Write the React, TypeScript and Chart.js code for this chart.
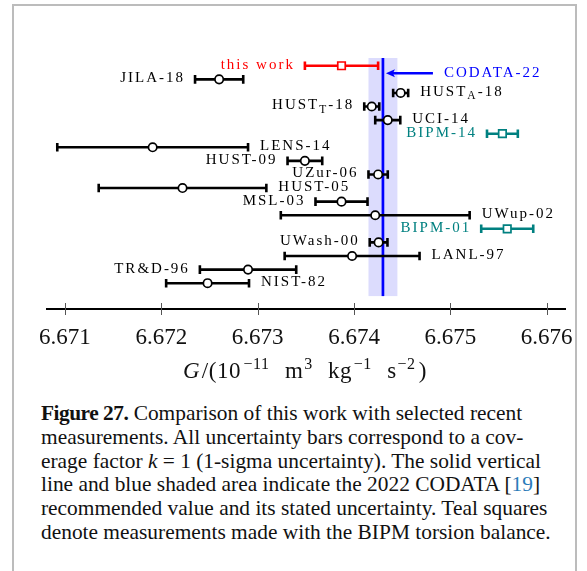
import React, { useEffect, useRef } from 'react';
import { Chart, registerables } from 'chart.js';

Chart.register(...registerables);

// ---------- data ----------
const names = [
  'this work', 'JILA-18', 'HUST_A-18', 'HUST_T-18', 'UCI-14', 'BIPM-14', 'LENS-14', 'HUST-09',
  'UZur-06', 'HUST-05', 'MSL-03', 'UWup-02', 'BIPM-01', 'UWash-00', 'LANL-97', 'TR&D-96', 'NIST-82',
];
const values = [
  6.67387, 6.6726, 6.674484, 6.674184, 6.67435, 6.67554, 6.67191, 6.67349,
  6.67425, 6.67222, 6.67387, 6.67422, 6.67559, 6.674255, 6.67398, 6.6729, 6.67248,
];
const uncertainties = [
  0.00038, 0.00025, 0.000078, 0.000078, 0.00013, 0.00016, 0.00099, 0.00018,
  0.0001, 0.00087, 0.00027, 0.00098, 0.00027, 0.000092, 0.0007, 0.0005, 0.00043,
];
// 'this' = this work, 'bipm' = BIPM torsion balance, 'std' = other
const kinds = [
  'this', 'std', 'std', 'std', 'std', 'bipm', 'std', 'std',
  'std', 'std', 'std', 'std', 'bipm', 'std', 'std', 'std', 'std',
];
const labelSide = ['L', 'L', 'R', 'L', 'R', 'L', 'R', 'L', 'L', 'R', 'L', 'R', 'L', 'L', 'R', 'L', 'R'];
const codataName = 'CODATA-22';
const codataValue = 6.6743;
const codataUncertainty = 0.00015;
const xTicks = [6.671, 6.672, 6.673, 6.674, 6.675, 6.676];
const xMin = 6.670803;
const xMax = 6.6762;

// ---------- styles ----------
const RED = '#ff0000';
const TEAL = '#008080';
const BLUE = '#0000ff';
const colorOf = (k: string) => (k === 'this' ? RED : k === 'bipm' ? TEAL : '#000000');
const SERIF = '"Liberation Serif", "Times New Roman", serif';
const yTop = -0.57;
const yBottom = 17.9;
const bandEnd = 16.95;

function labelParts(s: string) {
  const m = s.match(/^(.*?)_(\w)(.*)$/);
  if (!m) return [{ t: s, sub: false }];
  return [
    { t: m[1], sub: false },
    { t: m[2], sub: true },
    { t: m[3], sub: false },
  ];
}

function drawLabel(ctx: CanvasRenderingContext2D, text: string, x: number, y: number, align: 'left' | 'right', color: string) {
  const parts = labelParts(text);
  const mainFont = `15px ${SERIF}`;
  const subFont = `11.5px ${SERIF}`;
  ctx.save();
  (ctx as any).letterSpacing = '2px';
  ctx.textBaseline = 'middle';
  ctx.textAlign = 'left';
  ctx.fillStyle = color;
  const widths = parts.map((p) => {
    ctx.font = p.sub ? subFont : mainFont;
    return ctx.measureText(p.t).width;
  });
  const total = widths.reduce((a, b) => a + b, 0);
  let cx = align === 'left' ? x : x - total + 2;
  parts.forEach((p, i) => {
    ctx.font = p.sub ? subFont : mainFont;
    ctx.fillText(p.t, cx, y + (p.sub ? 4 : 0));
    cx += widths[i];
  });
  ctx.restore();
}

function drawAxisTitle(ctx: CanvasRenderingContext2D, cx: number, baseline: number) {
  const main = `23px ${SERIF}`;
  const ital = `italic 23px ${SERIF}`;
  const sup = `16px ${SERIF}`;
  const segs = [
    { t: 'G', f: ital, dy: 0, w: 0.2 },
    { t: '/(10', f: main, dy: 0, w: 0.3 },
    { t: '\u221211', f: sup, dy: -9, w: 2 },
    { t: 'm', f: main, dy: 0, w: 0.1 },
    { t: '3', f: sup, dy: -9, w: 2 },
    { t: 'kg', f: main, dy: 0, w: 0.2 },
    { t: '\u22121', f: sup, dy: -9, w: 2 },
    { t: 's', f: main, dy: 0, w: 0.1 },
    { t: '\u22122', f: sup, dy: -9, w: 0.4 },
    { t: ')', f: main, dy: 0, w: 0 },
  ];
  ctx.save();
  (ctx as any).letterSpacing = '0.6px';
  ctx.textBaseline = 'alphabetic';
  ctx.textAlign = 'left';
  ctx.fillStyle = '#111';
  const widths = segs.map((s) => {
    ctx.font = s.f;
    return ctx.measureText(s.t).width;
  });
  const natural = widths.reduce((a, b) => a + b, 0);
  const target = 244;
  const wsum = segs.reduce((a, s) => a + s.w, 0);
  const unit = Math.max(0, (target - natural) / wsum);
  let x = cx - Math.max(target, natural) / 2;
  segs.forEach((s, i) => {
    ctx.font = s.f;
    ctx.fillText(s.t, x, baseline + s.dy);
    x += widths[i] + s.w * unit;
  });
  ctx.restore();
}

const gPlugin = {
  id: 'gplot',
  beforeDatasetsDraw(chart: any) {
    const { ctx, chartArea } = chart;
    const x = chart.scales.x;
    const y = chart.scales.y;
    ctx.save();
    // CODATA band
    const bl = x.getPixelForValue(codataValue - codataUncertainty);
    const br = x.getPixelForValue(codataValue + codataUncertainty);
    const bt = y.getPixelForValue(yTop);
    const bb = y.getPixelForValue(bandEnd);
    ctx.fillStyle = 'rgb(220,220,253)';
    ctx.fillRect(bl, bt, br - bl, bb - bt);
    // CODATA line
    const cxp = x.getPixelForValue(codataValue);
    ctx.strokeStyle = BLUE;
    ctx.lineWidth = 2.7;
    ctx.beginPath();
    ctx.moveTo(cxp, bt);
    ctx.lineTo(cxp, bb);
    ctx.stroke();
    // error bars
    values.forEach((v, i) => {
      const lo = x.getPixelForValue(v - uncertainties[i]);
      const hi = x.getPixelForValue(v + uncertainties[i]);
      const py = y.getPixelForValue(i);
      ctx.strokeStyle = colorOf(kinds[i]);
      ctx.lineWidth = 2.6;
      ctx.lineCap = 'butt';
      ctx.beginPath();
      ctx.moveTo(lo, py);
      ctx.lineTo(hi, py);
      ctx.moveTo(lo, py - 4.3);
      ctx.lineTo(lo, py + 4.3);
      ctx.moveTo(hi, py - 4.3);
      ctx.lineTo(hi, py + 4.3);
      ctx.stroke();
    });
    // axis line + ticks
    const ay = chartArea.bottom;
    ctx.strokeStyle = '#000';
    ctx.lineWidth = 2.2;
    ctx.beginPath();
    ctx.moveTo(chartArea.left, ay);
    ctx.lineTo(chartArea.right, ay);
    ctx.stroke();
    ctx.strokeStyle = '#555';
    ctx.lineWidth = 1;
    xTicks.forEach((t) => {
      const tx = Math.round(x.getPixelForValue(t)) + 0.5;
      ctx.beginPath();
      ctx.moveTo(tx, ay - 6);
      ctx.lineTo(tx, ay + 6);
      ctx.stroke();
    });
    ctx.restore();
  },
  afterDatasetsDraw(chart: any) {
    const { ctx, chartArea } = chart;
    const x = chart.scales.x;
    const y = chart.scales.y;
    // labels
    names.forEach((n, i) => {
      const py = y.getPixelForValue(i) - 1;
      if (labelSide[i] === 'L') {
        drawLabel(ctx, n, x.getPixelForValue(values[i] - uncertainties[i]) - 12, py, 'right', colorOf(kinds[i]));
      } else {
        drawLabel(ctx, n, x.getPixelForValue(values[i] + uncertainties[i]) + 12, py, 'left', colorOf(kinds[i]));
      }
    });
    // CODATA arrow + label
    const cxp = x.getPixelForValue(codataValue);
    const ay = y.getPixelForValue(0.56);
    const tip = cxp + 3;
    const tail = cxp + 50;
    ctx.save();
    ctx.strokeStyle = BLUE;
    ctx.fillStyle = BLUE;
    ctx.lineWidth = 2.5;
    ctx.beginPath();
    ctx.moveTo(tail, ay);
    ctx.lineTo(tip + 6, ay);
    ctx.stroke();
    ctx.beginPath();
    ctx.moveTo(tip, ay);
    ctx.lineTo(tip + 9, ay - 4);
    ctx.lineTo(tip + 7, ay);
    ctx.lineTo(tip + 9, ay + 4);
    ctx.closePath();
    ctx.fill();
    ctx.restore();
    drawLabel(ctx, codataName, tail + 11, ay, 'left', BLUE);
    // axis title
    drawAxisTitle(ctx, (chartArea.left + chartArea.right) / 2 - 1, 378);
  },
};

export default function App() {
  const ref = useRef<HTMLCanvasElement | null>(null);
  useEffect(() => {
    const canvas = ref.current;
    if (!canvas) return;
    const chart = new Chart(canvas, {
      type: 'scatter',
      data: {
        datasets: [
          {
            data: values.map((v, i) => ({ x: v, y: i })),
            pointStyle: kinds.map((k) => (k === 'std' ? 'circle' : 'rect')) as any,
            pointRadius: kinds.map((k) => (k === 'std' ? 4.2 : 5.3)),
            pointBorderColor: kinds.map(colorOf),
            pointBackgroundColor: '#ffffff',
            pointBorderWidth: 1.7,
            showLine: false,
          },
        ],
      },
      options: {
        responsive: false,
        animation: false,
        devicePixelRatio: 1,
        events: [],
        layout: { padding: { top: 58, left: 46, right: 21, bottom: 0 } },
        plugins: {
          legend: { display: false },
          tooltip: { enabled: false },
          title: { display: false },
        },
        scales: {
          x: {
            type: 'linear',
            min: xMin,
            max: xMax,
            grid: { display: false },
            border: { display: false },
            afterFit: (s: any) => {
              s.height = 91;
            },
            afterBuildTicks: (s: any) => {
              s.ticks = xTicks.map((v) => ({ value: v }));
            },
            ticks: {
              autoSkip: false,
              maxRotation: 0,
              padding: 7,
              color: '#111',
              font: { family: SERIF, size: 23 },
              callback: (v: any) => Number(v).toFixed(3),
            },
          },
          y: {
            type: 'linear',
            reverse: true,
            min: yTop,
            max: yBottom,
            display: false,
          },
        },
      },
      plugins: [gPlugin],
    });
    return () => chart.destroy();
  }, []);

  return (
    <div style={{ position: 'fixed', inset: 0, overflow: 'hidden', background: '#fff' }}>
      <div
        style={{
          position: 'absolute',
          left: 12,
          top: 4,
          width: 565,
          height: 567,
          boxSizing: 'border-box',
          borderLeft: '2px solid #bcbcbc',
          borderTop: '2px solid #bcbcbc',
          borderRight: '2px solid #bcbcbc',
        }}
      />
      <canvas
        ref={ref}
        width={587}
        height={400}
        style={{ position: 'absolute', left: 0, top: 0, width: 587, height: 400 }}
      />
      <div
        style={{
          position: 'absolute',
          left: 41,
          top: 402,
          font: `21.4px ${SERIF}`,
          lineHeight: '23.8px',
          color: '#111',
          whiteSpace: 'nowrap',
        }}
      >
        <b style={{ letterSpacing: '-0.5px' }}>Figure 27.</b> Comparison of this work with selected recent
        <br />
        measurements. All uncertainty bars correspond to a cov-
        <br />
        erage factor <i>k</i> = 1 (1-sigma uncertainty). The solid vertical
        <br />
        line and blue shaded area indicate the 2022 CODATA [<span style={{ color: '#2b7bb9' }}>19</span>]
        <br />
        recommended value and its stated uncertainty. Teal squares
        <br />
        denote measurements made with the BIPM torsion balance.
      </div>
    </div>
  );
}
